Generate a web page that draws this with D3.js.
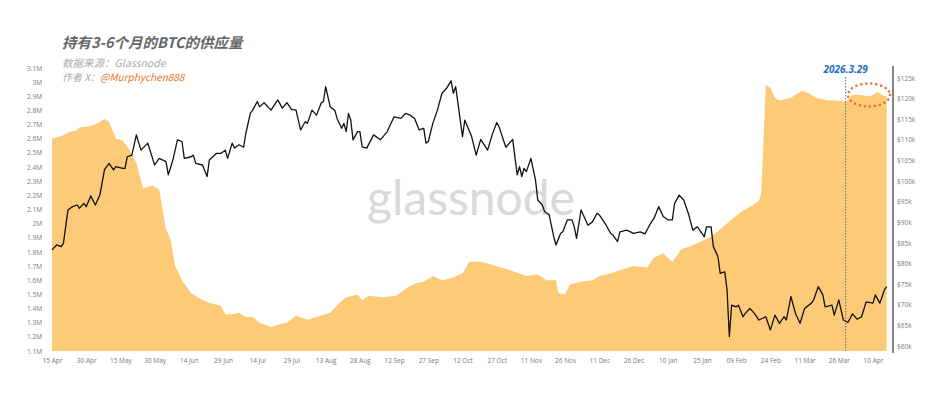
<!DOCTYPE html>
<html>
<head>
<meta charset="utf-8">
<script src="https://cdn.jsdelivr.net/npm/d3@7"></script>
<style>
  body { margin: 0; background: #fff; }
  svg { display: block; font-family: "Open Sans", "Noto Sans CJK SC", sans-serif; }
</style>
</head>
<body>
<script>
var WIDTH = 947;
var HEIGHT = 399;

// supply held 3-6 months (millions of BTC)
var supplyDates = [
  '2025-04-15','2025-04-19','2025-04-23','2025-04-26','2025-04-27','2025-05-02','2025-05-05','2025-05-08',
  '2025-05-10','2025-05-13','2025-05-16','2025-05-19','2025-05-22','2025-05-25','2025-05-29','2025-06-01',
  '2025-06-04','2025-06-06','2025-06-08','2025-06-11','2025-06-15','2025-06-20','2025-06-23','2025-06-28',
  '2025-06-30','2025-07-03','2025-07-06','2025-07-09','2025-07-12','2025-07-15','2025-07-20','2025-07-24',
  '2025-07-27','2025-07-31','2025-08-05','2025-08-09','2025-08-15','2025-08-19','2025-08-22','2025-08-27',
  '2025-08-29','2025-09-01','2025-09-07','2025-09-13','2025-09-18','2025-09-22','2025-09-25','2025-09-29',
  '2025-10-03','2025-10-08','2025-10-12','2025-10-15','2025-10-20','2025-10-25','2025-11-02','2025-11-09',
  '2025-11-14','2025-11-18','2025-11-22','2025-11-23','2025-11-26','2025-11-28','2025-12-03','2025-12-08',
  '2025-12-11','2025-12-16','2025-12-20','2025-12-26','2026-01-01','2026-01-04','2026-01-08','2026-01-12',
  '2026-01-16','2026-01-20','2026-01-24','2026-01-29','2026-02-02','2026-02-07','2026-02-11','2026-02-15',
  '2026-02-19','2026-02-20','2026-02-22','2026-02-24','2026-02-26','2026-02-28','2026-03-05','2026-03-08',
  '2026-03-10','2026-03-13','2026-03-16','2026-03-21','2026-03-25','2026-03-29','2026-04-01','2026-04-04',
  '2026-04-09','2026-04-12','2026-04-14','2026-04-16'
];
var supplyValues = [
  2.60, 2.62, 2.65, 2.66, 2.68, 2.69, 2.71, 2.74,
  2.72, 2.60, 2.59, 2.52, 2.43, 2.25, 2.27, 2.24,
  1.96, 1.89, 1.70, 1.60, 1.51, 1.46, 1.44, 1.42,
  1.36, 1.36, 1.37, 1.34, 1.34, 1.30, 1.27, 1.29,
  1.30, 1.35, 1.32, 1.34, 1.37, 1.44, 1.48, 1.50,
  1.46, 1.49, 1.48, 1.49, 1.55, 1.58, 1.59, 1.63,
  1.60, 1.62, 1.65, 1.73, 1.73, 1.71, 1.67, 1.63,
  1.64, 1.60, 1.60, 1.51, 1.50, 1.57, 1.59, 1.60,
  1.63, 1.65, 1.67, 1.70, 1.69, 1.76, 1.79, 1.73,
  1.82, 1.84, 1.87, 1.91, 1.96, 2.03, 2.08, 2.12,
  2.16, 2.22, 2.98, 2.96, 2.89, 2.87, 2.89, 2.92,
  2.94, 2.92, 2.89, 2.87, 2.87, 2.86, 2.91, 2.91,
  2.90, 2.93, 2.91, 2.90
];

// BTC price (thousand USD)
var priceDates = [
  '2025-04-15','2025-04-17','2025-04-19','2025-04-20','2025-04-22','2025-04-24','2025-04-26','2025-04-27',
  '2025-04-29','2025-04-30','2025-05-02','2025-05-04','2025-05-06','2025-05-08','2025-05-10','2025-05-12',
  '2025-05-13','2025-05-16','2025-05-17','2025-05-18','2025-05-20','2025-05-22','2025-05-24','2025-05-27',
  '2025-05-30','2025-06-01','2025-06-04','2025-06-05','2025-06-07','2025-06-09','2025-06-11','2025-06-12',
  '2025-06-15','2025-06-16','2025-06-17','2025-06-20','2025-06-22','2025-06-23','2025-06-26','2025-06-28',
  '2025-06-30','2025-07-01','2025-07-03','2025-07-04','2025-07-06','2025-07-08','2025-07-09','2025-07-11',
  '2025-07-12','2025-07-14','2025-07-15','2025-07-17','2025-07-20','2025-07-23','2025-07-25','2025-07-27',
  '2025-07-29','2025-07-31','2025-08-02','2025-08-04','2025-08-05','2025-08-07','2025-08-09','2025-08-11',
  '2025-08-12','2025-08-13','2025-08-15','2025-08-17','2025-08-18','2025-08-20','2025-08-21','2025-08-22',
  '2025-08-23','2025-08-24','2025-08-25','2025-08-27','2025-08-28','2025-08-29','2025-08-31','2025-09-03',
  '2025-09-06','2025-09-09','2025-09-12','2025-09-15','2025-09-17','2025-09-19','2025-09-21','2025-09-23',
  '2025-09-25','2025-09-26','2025-09-27','2025-09-29','2025-10-01','2025-10-03','2025-10-05','2025-10-07',
  '2025-10-08','2025-10-09','2025-10-10','2025-10-12','2025-10-13','2025-10-16','2025-10-18','2025-10-20',
  '2025-10-23','2025-10-25','2025-10-27','2025-10-28','2025-10-31','2025-11-03','2025-11-05','2025-11-06',
  '2025-11-07','2025-11-08','2025-11-09','2025-11-11','2025-11-13','2025-11-14','2025-11-16','2025-11-17',
  '2025-11-19','2025-11-21','2025-11-22','2025-11-24','2025-11-25','2025-11-27','2025-11-29','2025-11-30',
  '2025-12-01','2025-12-03','2025-12-06','2025-12-08','2025-12-10','2025-12-11','2025-12-14','2025-12-16',
  '2025-12-17','2025-12-19','2025-12-20','2025-12-23','2025-12-26','2025-12-29','2025-12-31','2026-01-02',
  '2026-01-04','2026-01-06','2026-01-08','2026-01-10','2026-01-12','2026-01-13','2026-01-15','2026-01-17',
  '2026-01-19','2026-01-21','2026-01-23','2026-01-26','2026-01-27','2026-01-29','2026-01-30','2026-02-01',
  '2026-02-02','2026-02-04','2026-02-05','2026-02-06','2026-02-07','2026-02-09','2026-02-10','2026-02-12',
  '2026-02-13','2026-02-15','2026-02-17','2026-02-19','2026-02-22','2026-02-24','2026-02-26','2026-02-28',
  '2026-03-02','2026-03-03','2026-03-05','2026-03-07','2026-03-09','2026-03-11','2026-03-14','2026-03-15',
  '2026-03-17','2026-03-19','2026-03-20','2026-03-23','2026-03-24','2026-03-26','2026-03-28','2026-03-30',
  '2026-04-01','2026-04-03','2026-04-05','2026-04-07','2026-04-10','2026-04-11','2026-04-13','2026-04-15',
  '2026-04-16'
];
var priceValues = [
  83.3, 84.5, 84.1, 84.9, 93.0, 93.8, 94.2, 93.4,
  94.6, 93.8, 96.4, 94.2, 96.6, 102.7, 104.3, 102.7,
  103.5, 103.1, 103.1, 105.9, 106.3, 111.2, 107.5, 109.2,
  103.9, 105.5, 104.7, 101.5, 105.1, 110.0, 109.6, 105.5,
  105.9, 106.3, 104.3, 103.9, 101.1, 105.1, 106.7, 106.7,
  107.5, 105.5, 109.2, 108.0, 108.8, 108.2, 111.6, 116.5,
  117.2, 119.3, 118.0, 119.0, 117.2, 119.7, 117.7, 119.0,
  117.4, 117.2, 112.4, 114.4, 114.0, 117.2, 116.0, 118.9,
  119.3, 122.9, 118.0, 117.2, 115.2, 112.8, 114.0, 112.0,
  116.4, 114.8, 110.0, 112.0, 112.0, 108.3, 108.0, 111.2,
  110.0, 112.0, 115.6, 115.2, 116.4, 116.0, 115.2, 112.4,
  112.8, 109.2, 109.6, 114.0, 117.2, 121.3, 122.5, 124.3,
  121.3, 122.9, 118.9, 110.8, 114.8, 110.8, 106.3, 110.1,
  107.5, 111.2, 114.2, 113.2, 108.2, 110.1, 101.5, 103.5,
  101.1, 103.1, 102.3, 105.5, 100.3, 95.4, 94.2, 92.6,
  91.8, 86.5, 84.5, 87.3, 87.7, 90.6, 90.6, 88.9,
  86.1, 93.0, 89.3, 90.1, 92.2, 91.8, 89.3, 87.3,
  86.9, 85.3, 87.7, 88.1, 87.3, 87.7, 87.2, 89.3,
  91.0, 93.8, 91.4, 90.6, 90.6, 94.6, 96.6, 95.4,
  92.2, 88.1, 88.9, 86.5, 88.9, 88.9, 84.1, 81.7,
  77.6, 78.0, 73.6, 62.3, 69.9, 69.5, 69.9, 67.1,
  67.9, 69.1, 67.9, 66.3, 67.1, 63.9, 67.5, 65.5,
  67.1, 66.3, 72.0, 67.9, 65.5, 69.1, 70.4, 71.2,
  74.4, 72.4, 69.5, 69.9, 67.5, 71.2, 66.3, 65.7,
  67.8, 66.5, 67.1, 70.7, 70.4, 72.4, 70.4, 73.6,
  74.4
];

var leftTicks = [1.1, 1.2, 1.3, 1.4, 1.5, 1.6, 1.7, 1.8, 1.9, 2, 2.1, 2.2, 2.3, 2.4, 2.5, 2.6, 2.7, 2.8, 2.9, 3, 3.1];
var rightTicks = [60, 65, 70, 75, 80, 85, 90, 95, 100, 105, 110, 115, 120, 125];
var xTickDates = [
  '2025-04-15','2025-04-30','2025-05-15','2025-05-30','2025-06-14','2025-06-29','2025-07-14','2025-07-29',
  '2025-08-13','2025-08-28','2025-09-12','2025-09-27','2025-10-12','2025-10-27','2025-11-11','2025-11-26',
  '2025-12-11','2025-12-26','2026-01-10','2026-01-25','2026-02-09','2026-02-24','2026-03-11','2026-03-26',
  '2026-04-10'
];
var markDate = '2026-03-29';
var markLabel = '2026.3.29';

var parseDate = d3.timeParse('%Y-%m-%d');

var x = d3.scaleTime()
    .domain([parseDate('2025-04-15'), parseDate('2026-04-10')])
    .range([52, 873]);

var yLeft = d3.scaleLinear()
    .domain([1.1, 3.1])
    .range([351, 68]);

var yRight = d3.scaleLinear()
    .domain([60, 125])
    .range([346, 78]);

var supply = supplyDates.map(function (d, i) { return { date: parseDate(d), value: supplyValues[i] }; });
var price = priceDates.map(function (d, i) { return { date: parseDate(d), value: priceValues[i] }; });

var svg = d3.select('body')
    .append('svg')
    .attr('width', WIDTH)
    .attr('height', HEIGHT);

// supply area
var supplyArea = d3.area()
    .x(function (d) { return x(d.date); })
    .y0(yLeft(1.1))
    .y1(function (d) { return yLeft(d.value); });

svg.append('path')
    .datum(supply)
    .attr('fill', '#fdcb78')
    .attr('d', supplyArea);

// watermark
svg.append('text')
    .attr('x', 471)
    .attr('y', 215)
    .attr('text-anchor', 'middle')
    .style('font-family', 'Lato, "Open Sans", sans-serif')
    .style('font-size', '48px')
    .style('fill', '#d9d9d9')
    .text('glassnode');

// shared style for the small tick labels
var styleTicks = function (g) {
    g.select('.domain').remove();
    g.selectAll('text')
        .attr('fill', '#7a7a7a')
        .style('font-size', '6.5px')
        .style('font-family', '"Open Sans", sans-serif');
};

// left axis
var leftAxis = d3.axisLeft(yLeft)
    .tickValues(leftTicks)
    .tickSize(0)
    .tickPadding(0)
    .tickFormat(function (d) { return d3.format('~g')(d) + 'M'; });

svg.append('g')
    .attr('transform', 'translate(42,0)')
    .call(leftAxis)
    .call(styleTicks);

// right axis
var rightAxis = d3.axisRight(yRight)
    .tickValues(rightTicks)
    .tickSize(0)
    .tickPadding(4)
    .tickFormat(function (d) { return '$' + d + 'k'; });

svg.append('g')
    .attr('transform', 'translate(893,0)')
    .call(rightAxis)
    .call(styleTicks);

svg.append('line')
    .attr('x1', 893).attr('x2', 893)
    .attr('y1', 66).attr('y2', 353)
    .attr('stroke', '#333')
    .attr('stroke-width', 1.2);

// bottom axis
var bottomAxis = d3.axisBottom(x)
    .tickValues(xTickDates.map(parseDate))
    .tickSize(0)
    .tickPadding(0)
    .tickFormat(d3.timeFormat('%d %b'));

svg.append('g')
    .attr('transform', 'translate(0,358)')
    .call(bottomAxis)
    .call(styleTicks);

// price line
var priceLine = d3.line()
    .x(function (d) { return x(d.date); })
    .y(function (d) { return yRight(d.value); });

svg.append('path')
    .datum(price)
    .attr('fill', 'none')
    .attr('stroke', '#111')
    .attr('stroke-width', 1.3)
    .attr('stroke-linejoin', 'round')
    .attr('d', priceLine);

// marker for 2026.3.29
var mx = x(parseDate(markDate));
svg.append('line')
    .attr('x1', mx).attr('x2', mx)
    .attr('y1', 77).attr('y2', 351)
    .attr('stroke', '#4a6f99')
    .attr('stroke-width', 1)
    .attr('stroke-dasharray', '1.5,1.5');

svg.append('text')
    .attr('x', mx)
    .attr('y', 73)
    .attr('text-anchor', 'middle')
    .style('font-size', '10px')
    .style('font-weight', 'bold')
    .style('font-style', 'italic')
    .style('fill', '#1e6eb8')
    .text(markLabel);

svg.append('ellipse')
    .attr('cx', 869)
    .attr('cy', 95)
    .attr('rx', 21)
    .attr('ry', 11.5)
    .attr('fill', 'none')
    .attr('stroke', '#e8702a')
    .attr('stroke-width', 2.6)
    .attr('stroke-linecap', 'round')
    .attr('stroke-dasharray', '0,5');

// title block
svg.append('text')
    .attr('x', 62)
    .attr('y', 48)
    .style('font-family', '"Noto Sans CJK SC", sans-serif')
    .style('font-size', '14.5px')
    .style('font-weight', 'bold')
    .style('font-style', 'italic')
    .style('fill', '#666')
    .text('持有3-6个月的BTC的供应量');

svg.append('text')
    .attr('x', 62)
    .attr('y', 67)
    .style('font-family', '"Noto Sans CJK SC", sans-serif')
    .style('font-size', '10.5px')
    .style('font-style', 'italic')
    .style('fill', '#aaa')
    .text('数据来源：Glassnode');

var author = svg.append('text')
    .attr('x', 62)
    .attr('y', 81)
    .style('font-family', '"Noto Sans CJK SC", sans-serif')
    .style('font-size', '10px')
    .style('font-style', 'italic')
    .style('fill', '#aaa');
author.append('tspan').text('作者 X：');
author.append('tspan').style('fill', '#e8742c').text('@Murphychen888');
</script>
</body>
</html>
